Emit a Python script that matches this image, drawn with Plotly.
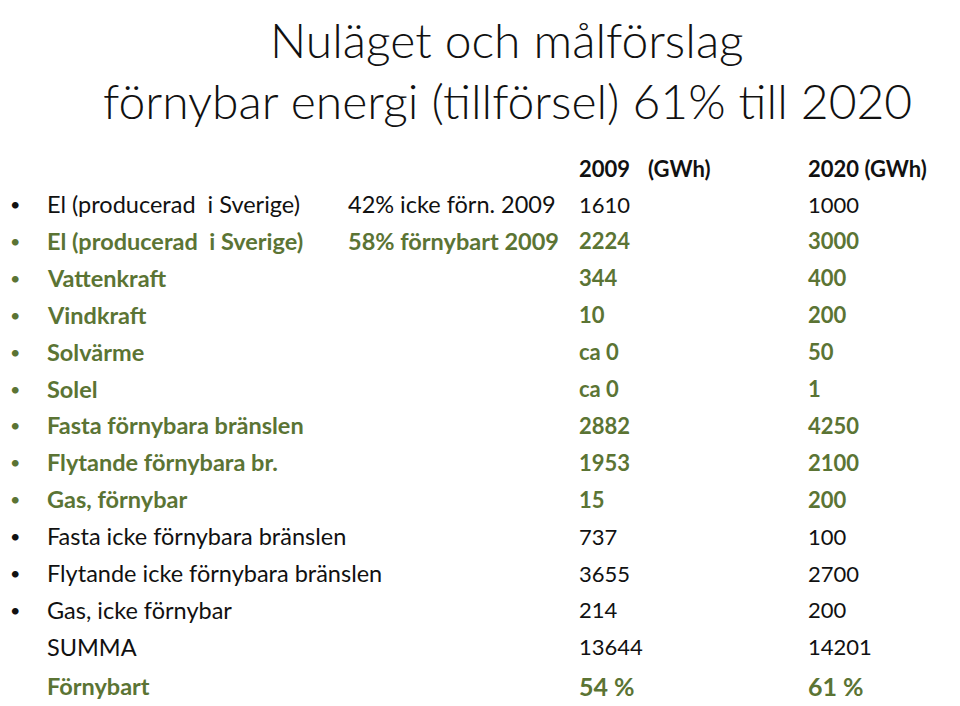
import plotly.graph_objects as go

# slide text
title_lines = ["Nuläget och målförslag", "förnybar energi (tillförsel) 61% till 2020"]

labels = [
    "El (producerad  i Sverige)",
    "El (producerad  i Sverige)",
    "Vattenkraft",
    "Vindkraft",
    "Solvärme",
    "Solel",
    "Fasta förnybara bränslen",
    "Flytande förnybara br.",
    "Gas, förnybar",
    "Fasta icke förnybara bränslen",
    "Flytande icke förnybara bränslen",
    "Gas, icke förnybar",
    "SUMMA",
    "Förnybart",
]
notes = ["42% icke förn. 2009", "58% förnybart 2009", "", "", "", "", "", "", "", "", "", "", "", ""]
values_2009 = ["1610", "2224", "344", "10", "ca 0", "ca 0", "2882", "1953", "15", "737", "3655", "214", "13644", "54 %"]
values_2020 = ["1000", "3000", "400", "200", "50", "1", "4250", "2100", "200", "100", "2700", "200", "14201", "61 %"]
renewable = [False, True, True, True, True, True, True, True, True, False, False, False, False, True]
bulleted = [True] * 12 + [False, False]

GREEN = "#5b7434"
BLACK = "#111111"
FONT = "Lato"
PAD = 2  # annotation inner padding

fig = go.Figure()
# page body has an 8px margin, so map data units to page pixels
fig.update_xaxes(range=[8, 968], visible=False, fixedrange=True)
fig.update_yaxes(range=[714, 8], visible=False, fixedrange=True)

ann = []
# title
for i, line in enumerate(title_lines):
    ann.append(dict(x=507, y=39 + 61 * i, text=line, showarrow=False,
                    xanchor="center", yanchor="middle",
                    font=dict(family=FONT, size=48, color=BLACK, weight=300)))

# header
for x, t in [(579, "2009"), (648, "(GWh)"), (808, "2020 (GWh)")]:
    ann.append(dict(x=x - PAD, y=168, text="<b>" + t + "</b>", showarrow=False,
                    xanchor="left", yanchor="middle",
                    font=dict(family=FONT, size=22, color=BLACK)))

for i, lab in enumerate(labels):
    last = i == len(labels) - 1
    y = 204 + 36.9 * i + (2 if last else 0)
    color = GREEN if renewable[i] else BLACK
    if renewable[i]:
        fmt = lambda s: "<b>" + s + "</b>"
    else:
        fmt = lambda s: s
    if bulleted[i]:
        ann.append(dict(x=15, y=y, text="•", showarrow=False, xanchor="center", yanchor="middle",
                        font=dict(family=FONT, size=18, color=color)))
    num_size = 25 if last else 22
    cells = [(47, lab, 23.5), (348, notes[i], 23.5), (579, values_2009[i], num_size), (808, values_2020[i], num_size)]
    for x, t, s in cells:
        if not t:
            continue
        ann.append(dict(x=x - PAD, y=y, text=fmt(t), showarrow=False, xanchor="left", yanchor="middle",
                        font=dict(family=FONT, size=s, color=color)))

fig.update_layout(
    width=960, height=706,
    margin=dict(l=0, r=0, t=0, b=0),
    paper_bgcolor="white", plot_bgcolor="white",
    annotations=ann,
    showlegend=False,
)

fig.write_html("out.html")
